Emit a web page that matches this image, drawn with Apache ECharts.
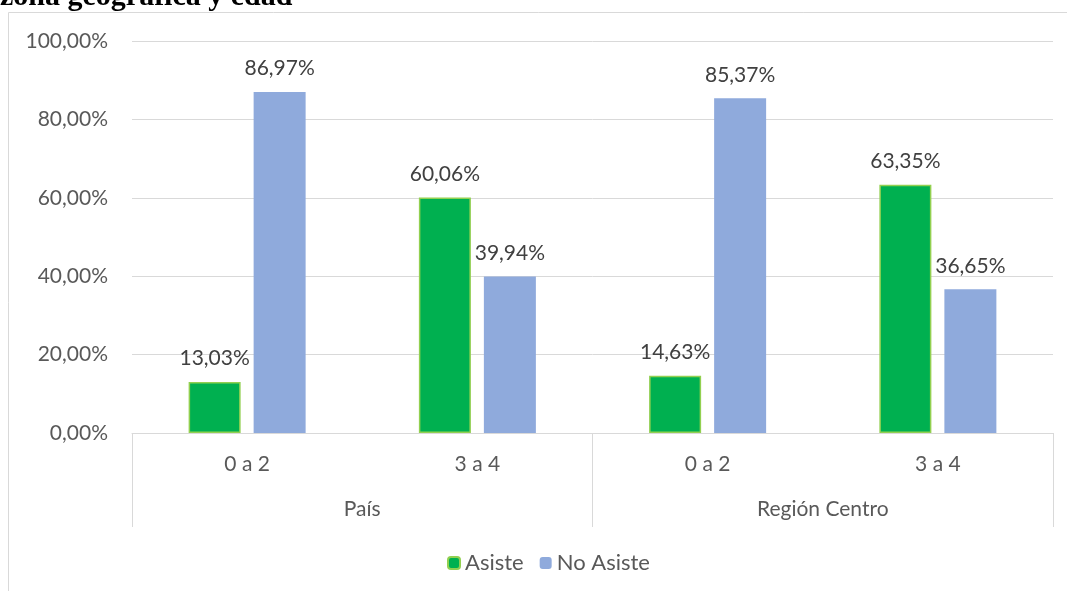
<!DOCTYPE html>
<html>
<head>
<meta charset="utf-8">
<script src="https://cdn.jsdelivr.net/npm/echarts@6/dist/echarts.min.js"></script>
<style>
  html, body { margin: 0; padding: 0; background: #fff; }
  #chart { width: 1067px; height: 591px; }
</style>
</head>
<body>
<div id="chart"></div>
<script>
  // datos
  const ageCats = ['0 a 2', '3 a 4', '0 a 2', '3 a 4'];
  const zones = ['País', 'Región Centro'];
  const asiste = [13.03, 60.06, 14.63, 63.35];
  const noAsiste = [86.97, 39.94, 85.37, 36.65];
  const yTicks = [0, 20, 40, 60, 80, 100];

  const font = 'Lato, "Open Sans", sans-serif';
  const fs = 21;
  const pct = v => v.toFixed(2).replace('.', ',') + '%';

  const chart = echarts.init(document.getElementById('chart'));

  let option = {
    animation: false,
    textStyle: { fontFamily: font },
    title: {
      text: 'zona geográfica y edad',
      left: -5,
      top: -23,
      textStyle: { fontFamily: '"Liberation Serif", serif', fontWeight: 'bold', fontSize: 30, color: '#000' }
    },
    graphic: [{
      type: 'rect',
      shape: { x: 8.5, y: 12.5, width: 1100, height: 700 },
      style: { fill: 'none', stroke: '#D9D9D9', lineWidth: 1 },
      silent: true
    }],
    legend: {
      data: ['Asiste', 'No Asiste'],
      bottom: 12,
      left: 442,
      itemWidth: 12,
      itemHeight: 12,
      itemGap: 16,
      textStyle: { fontSize: 22, color: '#595959', fontFamily: font }
    },
    grid: { left: 132, right: 14, top: 41, bottom: 158 },
    xAxis: [
      {
        type: 'category',
        data: ageCats,
        axisLine: { lineStyle: { color: '#D9D9D9' } },
        axisTick: { show: false },
        axisLabel: { fontSize: fs, color: '#595959', margin: 21, interval: 0 }
      },
      {
        type: 'category',
        position: 'bottom',
        data: zones,
        axisLine: { show: false },
        axisTick: { show: true, length: 94, lineStyle: { color: '#D9D9D9' } },
        axisLabel: { fontSize: fs, color: '#595959', margin: 66, interval: 0 }
      }
    ],
    yAxis: {
      type: 'value',
      min: yTicks[0],
      max: yTicks[yTicks.length - 1],
      interval: 20,
      axisLabel: { fontSize: fs, color: '#595959', margin: 24, formatter: pct },
      splitLine: { lineStyle: { color: '#D9D9D9' } },
      axisLine: { show: false },
      axisTick: { show: false }
    },
    series: [
      {
        name: 'Asiste',
        type: 'bar',
        data: asiste,
        barWidth: 52,
        barGap: '25%',
        itemStyle: { color: '#00B050', borderColor: '#92D050', borderWidth: 1.5 },
        label: { show: true, position: 'top', distance: 13, fontSize: fs, color: '#404040', formatter: p => pct(p.value) }
      },
      {
        name: 'No Asiste',
        type: 'bar',
        data: noAsiste,
        barWidth: 52,
        itemStyle: { color: '#8FAADC' },
        label: { show: true, position: 'top', distance: 13, fontSize: fs, color: '#404040', formatter: p => pct(p.value) }
      }
    ]
  };

  chart.setOption(option);
</script>
</body>
</html>
